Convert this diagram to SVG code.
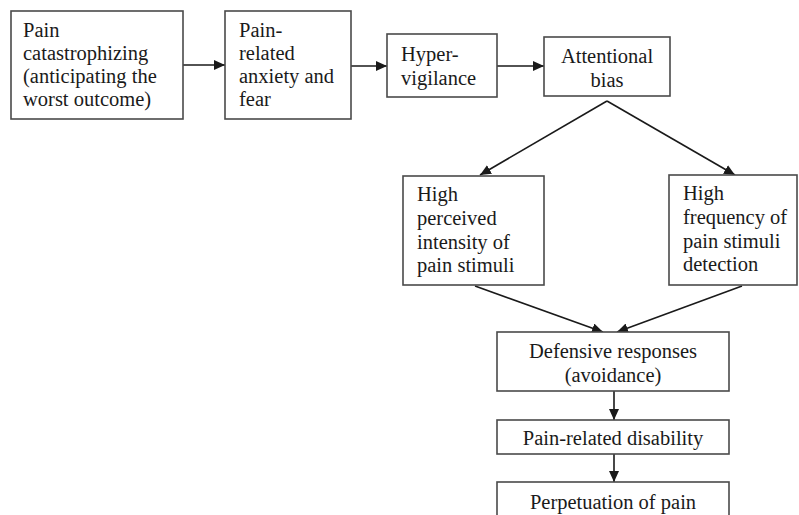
<svg xmlns="http://www.w3.org/2000/svg" width="799" height="515" viewBox="0 0 799 515">
<defs>
<marker id="ah" markerUnits="userSpaceOnUse" markerWidth="12" markerHeight="10" refX="11" refY="5" orient="auto">
<path d="M0,0 L11,5 L0,10 Z" fill="#1a1a1a"/>
</marker>
<style>
.box{fill:#fff;stroke:#4a4a4a;stroke-width:1.6}
.t{font-family:'Times New Roman',Tinos,'Liberation Serif','Noto Serif','DejaVu Serif',serif;font-size:20.5px;fill:#1a1a1a}
.c{text-anchor:middle}
.ln{stroke:#1a1a1a;stroke-width:1.6;fill:none;marker-end:url(#ah)}
</style>
</defs>
<rect width="799" height="515" fill="#fff"/>
<g id="connectors">
<line class="ln" x1="183" y1="65" x2="225" y2="65"/>
<line class="ln" x1="351" y1="66" x2="387" y2="66"/>
<line class="ln" x1="497" y1="66" x2="544" y2="66"/>
<line class="ln" x1="607" y1="101" x2="480" y2="175"/>
<line class="ln" x1="607" y1="101" x2="735" y2="175"/>
<line class="ln" x1="475" y1="286" x2="603" y2="332"/>
<line class="ln" x1="742" y1="286" x2="617" y2="332"/>
<line class="ln" x1="614" y1="391" x2="614" y2="420"/>
<line class="ln" x1="614" y1="454" x2="614" y2="482"/>
</g>
<g id="n1">
<rect class="box" x="11" y="11" width="172" height="108"/>
<text class="t" x="23" y="37">Pain</text>
<text class="t" x="23" y="60">catastrophizing</text>
<text class="t" x="23" y="83">(anticipating the</text>
<text class="t" x="23" y="106">worst outcome)</text>
</g>
<g id="n2">
<rect class="box" x="225" y="11" width="126" height="108"/>
<text class="t" x="239" y="37">Pain-</text>
<text class="t" x="239" y="60">related</text>
<text class="t" x="239" y="83">anxiety and</text>
<text class="t" x="239" y="106">fear</text>
</g>
<g id="n3">
<rect class="box" x="387" y="34" width="110" height="63"/>
<text class="t" x="401" y="61">Hyper-</text>
<text class="t" x="401" y="85">vigilance</text>
</g>
<g id="n4">
<rect class="box" x="544" y="37" width="126" height="59"/>
<text class="t c" x="607" y="63">Attentional</text>
<text class="t c" x="607" y="87">bias</text>
</g>
<g id="n5">
<rect class="box" x="403" y="176" width="141" height="109"/>
<text class="t" x="417" y="201">High</text>
<text class="t" x="417" y="225">perceived</text>
<text class="t" x="417" y="249">intensity of</text>
<text class="t" x="417" y="272">pain stimuli</text>
</g>
<g id="n6">
<rect class="box" x="669" y="175" width="128" height="110"/>
<text class="t" x="683" y="200">High</text>
<text class="t" x="683" y="224">frequency of</text>
<text class="t" x="683" y="248">pain stimuli</text>
<text class="t" x="683" y="271">detection</text>
</g>
<g id="n7">
<rect class="box" x="497" y="332" width="232" height="59"/>
<text class="t c" x="613" y="358">Defensive responses</text>
<text class="t c" x="613" y="382">(avoidance)</text>
</g>
<g id="n8">
<rect class="box" x="497" y="420" width="232" height="34"/>
<text class="t c" x="613" y="445">Pain-related disability</text>
</g>
<g id="n9">
<rect class="box" x="497" y="482" width="232" height="40"/>
<text class="t c" x="613" y="509">Perpetuation of pain</text>
</g>
</svg>
